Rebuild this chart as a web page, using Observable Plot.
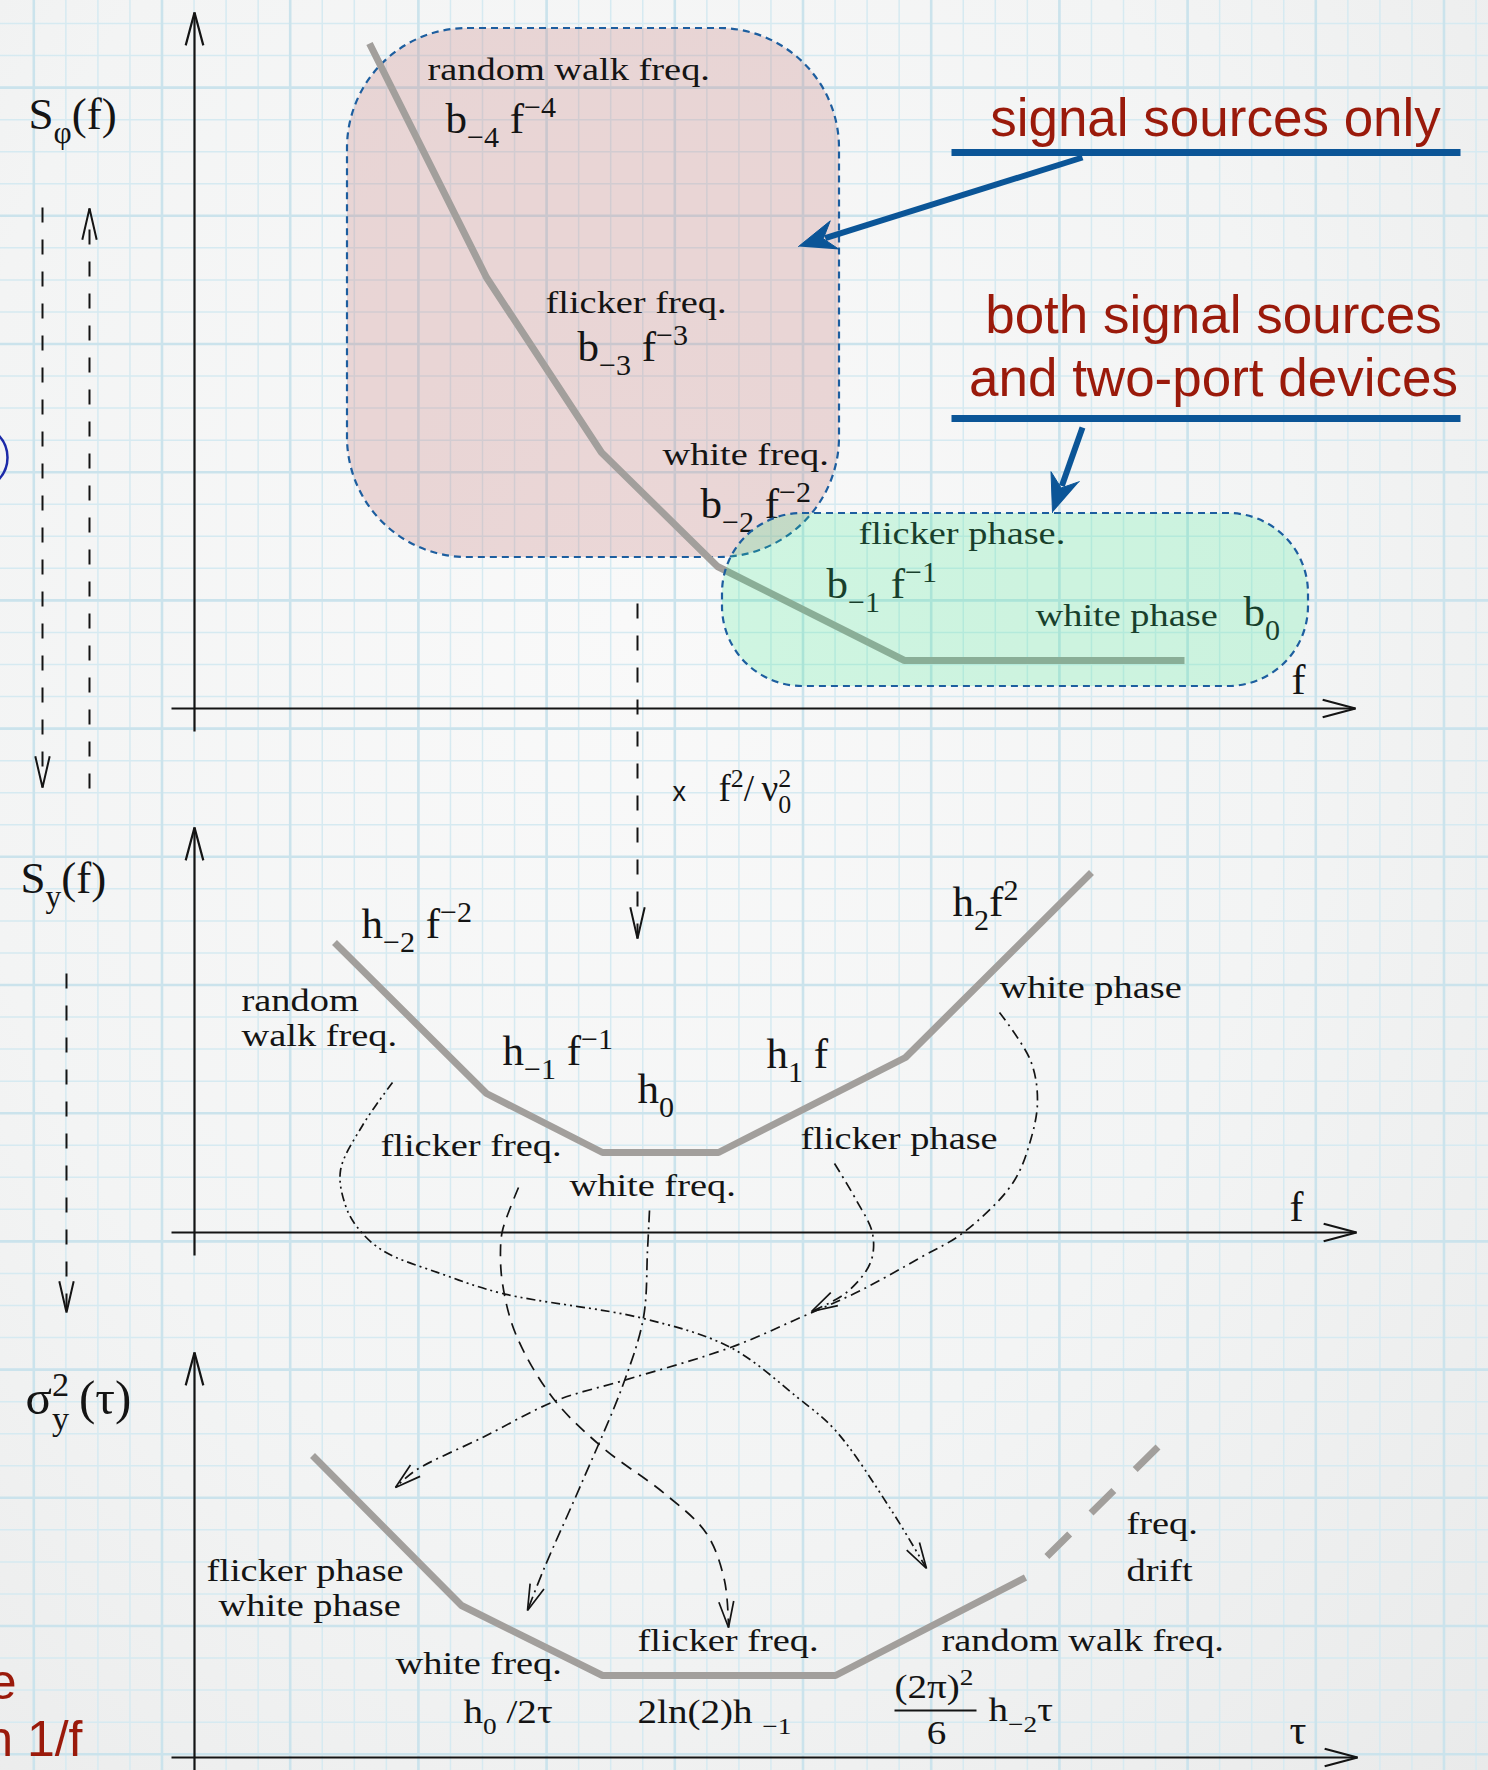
<!DOCTYPE html>
<html>
<head>
<meta charset="utf-8">
<script src="https://cdn.jsdelivr.net/npm/d3@7"></script>
<script src="https://cdn.jsdelivr.net/npm/@observablehq/plot@0.6"></script>
<style>
  html, body { margin: 0; padding: 0; }
  body { background: radial-gradient(ellipse at 42% 35%, #f9f9f9 0%, #f3f4f4 55%, #e9eaea 100%); }
  #chart svg { display: block; }
</style>
</head>
<body>
<div id="chart"></div>
<script>
// Power-law noise: S_phi(f), S_y(f) and the Allan variance, drawn on graph paper.
// Diagram units: x to the right, y downward, one unit per pixel of the page.
const W = 1488, H = 1770;
const SERIF = "Liberation Serif, Times New Roman, serif";
const SANS = "Liberation Sans, Arial, sans-serif";

// ---------- asymptotic slopes (breakpoints of each piecewise curve) ----------
const phaseSpectrum = [[369, 43], [486, 277], [601, 452], [717, 566], [904, 660], [1184, 660]];
const freqSpectrum  = [[334, 942], [486, 1093], [602, 1152], [718, 1152], [905, 1057], [1091, 872]];
const allanVariance = [[312, 1455], [461, 1605], [602, 1675], [835, 1675], [1025, 1577]];
const freqDrift     = [[1025, 1577], [1162, 1442]];

// ---------- regions: signal sources only / sources and two-port devices ----------
const sourceRegion  = [{x1: 347, x2: 839, y1: 28, y2: 557}];
const twoPortRegion = [{x1: 722, x2: 1308, y1: 513, y2: 686}];

// ---------- axes of the three panels (arrow at x2,y2) ----------
const axisLines = [
  {x1: 194, y1: 731, x2: 194, y2: 12},   {x1: 171, y1: 708, x2: 1355, y2: 708},
  {x1: 194, y1: 1255, x2: 194, y2: 827}, {x1: 171, y1: 1232, x2: 1356, y2: 1232},
  {x1: 194, y1: 1780, x2: 194, y2: 1352},{x1: 171, y1: 1757, x2: 1357, y2: 1757}
];

// ---------- dashed conversion arrows ----------
const flowArrows = [
  {x1: 42, y1: 207, x2: 42, y2: 787},
  {x1: 89, y1: 788, x2: 89, y2: 208},
  {x1: 66, y1: 973, x2: 66, y2: 1312},
  {x1: 637, y1: 603, x2: 637, y2: 938}
];

// ---------- mapping of each S_y(f) term onto sigma^2_y(tau) ----------
const mapRandomWalk = [[392,1082],[362,1125],[340,1170],[345,1205],[357,1227],[382,1250],[440,1273],[502,1293],[643,1318],[730,1347],[797,1397],[835,1430],[891,1510],[926,1568]];
const mapFlickerFreq = [[518,1187],[502,1230],[500,1250],[502,1283],[515,1333],[552,1397],[602,1447],[664,1493],[706,1533],[724,1580],[728,1627]];
const mapWhiteFreq = [[649,1210],[647,1250],[643,1317],[623,1383],[581,1483],[544,1567],[527,1610]];
const mapFlickerPhase = [[834,1163],[856,1200],[872,1233],[870,1262],[846,1292],[811,1311]];
const mapWhitePhase = [[999,1012],[1030,1060],[1037,1100],[1030,1140],[1012,1183],[963,1232],[920,1257],[860,1290],[800,1317],[730,1347],[623,1380],[556,1400],[482,1437],[415,1470],[395,1487]];
const mappings = [
  {pts: mapRandomWalk,   dash: "9,4,2,4,2,4"},
  {pts: mapFlickerFreq,  dash: "12,8"},
  {pts: mapWhiteFreq,    dash: "12,5,2,5"},
  {pts: mapFlickerPhase, dash: "10,5,2,5"},
  {pts: mapWhitePhase,   dash: "10,5,2,5"}
];

// ---------- blue call-outs ----------
const calloutRules = [{x1: 951, x2: 1460, y: 152}, {x1: 951, x2: 1460, y: 418}];
const callouts = [{x1: 1082, y1: 157, x2: 798, y2: 246}, {x1: 1082, y1: 427, x2: 1052, y2: 512}];
const calloutText = [
  {t: "signal sources only", x: 1215, y: 135},
  {t: "both signal sources", x: 1213, y: 332},
  {t: "and two-port devices", x: 1213, y: 395}
];
const marginText = [{t: "e", x: 16, y: 1698}, {t: "n 1/f", x: 82, y: 1755}];

// ---------- labels ----------
const quantityLabels = [
  {t: "S_{φ}(f)", x: 28, y: 128},
  {t: "S_{y}(f)", x: 20, y: 892}
];
const allanQuantity = [{t: "σ^{2}_{y}\u2009(τ)", x: 25, y: 1413}];
const variableLabels = [{t: "f", x: 1291, y: 693}, {t: "f", x: 1289, y: 1220}, {t: "τ", x: 1289, y: 1743}];
const termLabels = [
  {t: "b_{−4} f^{−4}", x: 445, y: 132},
  {t: "b_{−3} f^{−3}", x: 577, y: 360},
  {t: "b_{−2} f^{−2}", x: 700, y: 517},
  {t: "b_{−1} f^{−1}", x: 826, y: 597},
  {t: "b_{0}", x: 1243, y: 625},
  {t: "h_{−2} f^{−2}", x: 361, y: 937},
  {t: "h_{−1} f^{−1}", x: 502, y: 1064},
  {t: "h_{0}", x: 637, y: 1102},
  {t: "h_{1} f", x: 766, y: 1067},
  {t: "h_{2}f^{2}", x: 952, y: 915}
];
const noiseNames = [
  {t: "random walk freq.", x: 427, y: 79},
  {t: "flicker freq.", x: 545, y: 312},
  {t: "white freq.", x: 662, y: 464},
  {t: "flicker phase.", x: 858, y: 543},
  {t: "white phase", x: 1035, y: 625},
  {t: "random", x: 241, y: 1010},
  {t: "walk freq.", x: 241, y: 1045},
  {t: "flicker freq.", x: 380, y: 1155},
  {t: "white freq.", x: 569, y: 1195},
  {t: "flicker phase", x: 800, y: 1148},
  {t: "white phase", x: 999, y: 997},
  {t: "flicker phase", x: 206, y: 1580},
  {t: "white phase", x: 218, y: 1615},
  {t: "white freq.", x: 395, y: 1673},
  {t: "flicker freq.", x: 637, y: 1650},
  {t: "random walk freq.", x: 941, y: 1650},
  {t: "freq.", x: 1126, y: 1533},
  {t: "drift", x: 1126, y: 1580}
];
const allanTerms = [
  {t: "h_{0} /2τ", x: 463, y: 1722},
  {t: "2ln(2)h _{−1}", x: 637, y: 1722},
  {t: "(2π)^{2}", x: 894, y: 1697},
  {t: "h_{−2}τ", x: 988, y: 1720}
];
const allanDenominator = [{t: "6", x: 936, y: 1743}];
const fractionBar = [{x1: 894, x2: 976, y: 1710}];
const conversionLabel = [{t: "f^{2}/\u2009ν_{0}^{2}", x: 718, y: 800}];
const conversionSign = [{t: "x", x: 672, y: 800}];

// ---------- graph paper ----------
const gridStep = 32.05;
const gridX = d3.range(33.3, W, gridStep);
const gridY = d3.range(23, H, gridStep);
const gridXMajor = gridX.filter((d, i) => i % 4 === 0);
const gridYMajor = gridY.filter((d, i) => i % 4 === 2);

// ---------- helpers ----------
const toRows = (pts, id) => pts.map(([x, y]) => ({id, x, y}));

// open arrow head (two wings meeting at the tip)
function chevron(tip, from, len, halfDeg, id) {
  const a = Math.atan2(from[1] - tip[1], from[0] - tip[0]), h = halfDeg * Math.PI / 180;
  return [
    {id, x: tip[0] + len * Math.cos(a + h), y: tip[1] + len * Math.sin(a + h)},
    {id, x: tip[0], y: tip[1]},
    {id, x: tip[0] + len * Math.cos(a - h), y: tip[1] + len * Math.sin(a - h)}
  ];
}
// filled barbed head
function barb(tip, from, len, half, notch, id) {
  const dx = tip[0] - from[0], dy = tip[1] - from[1], L = Math.hypot(dx, dy);
  const ux = dx / L, uy = dy / L, nx = -uy, ny = ux;
  return [
    {id, x: tip[0], y: tip[1]},
    {id, x: tip[0] - len * ux + half * nx, y: tip[1] - len * uy + half * ny},
    {id, x: tip[0] - notch * ux, y: tip[1] - notch * uy},
    {id, x: tip[0] - len * ux - half * nx, y: tip[1] - len * uy - half * ny}
  ];
}

const axisHeads = axisLines.flatMap((d, i) => chevron([d.x2, d.y2], [d.x1, d.y1], 34, 15, "a" + i));
const flowHeads = flowArrows.flatMap((d, i) => chevron([d.x2, d.y2], [d.x1, d.y1], 32, 13, "f" + i));
const mapHeads = mappings.flatMap((m, i) => {
  const n = m.pts.length;
  return chevron(m.pts[n - 1], m.pts[n - 2], 27, 16, "m" + i);
});
const calloutHeads = callouts.flatMap((d, i) => barb([d.x2, d.y2], [d.x1, d.y1], 38, 15, 26, "c" + i));
const calloutShafts = callouts.map(d => {
  const dx = d.x2 - d.x1, dy = d.y2 - d.y1, L = Math.hypot(dx, dy);
  return {x1: d.x1, y1: d.y1, x2: d.x2 - 28 * dx / L, y2: d.y2 - 28 * dy / L};
});

const INK = "#141414";
const CURVE = "#a29f9c";
const BORDER = "#1d5e9f";
const BLUE = "#0b5597";
const RED = "#9a1a0b";

const txt = (data, o) => Plot.text(data, {x: "x", y: "y", text: "t", lineAnchor: "bottom", textAnchor: "start", fill: INK, fontFamily: SERIF, ...o});

const chart = Plot.plot({
  width: W,
  height: H,
  margin: 0,
  x: {domain: [0, W], range: [0, W], axis: null},
  y: {domain: [0, H], range: [0, H], axis: null},
  style: {background: "transparent", overflow: "hidden"},
  marks: [
    // graph paper
    Plot.ruleX(gridX, {stroke: "#d6eaf1", strokeWidth: 1.5}),
    Plot.ruleY(gridY, {stroke: "#d6eaf1", strokeWidth: 1.5}),
    Plot.ruleX(gridXMajor, {stroke: "#cbe3ec", strokeWidth: 2.6}),
    Plot.ruleY(gridYMajor, {stroke: "#cbe3ec", strokeWidth: 2.6}),

    // signal-source region (behind the curve)
    Plot.rect(sourceRegion, {x1: "x1", x2: "x2", y1: "y1", y2: "y2", rx: 120, fill: "rgb(202,136,136)", fillOpacity: 0.3}),
    Plot.rect(sourceRegion, {x1: "x1", x2: "x2", y1: "y1", y2: "y2", rx: 120, fill: "none", stroke: BORDER, strokeWidth: 2.2, strokeDasharray: "7,5"}),

    // axes
    Plot.link(axisLines, {x1: "x1", y1: "y1", x2: "x2", y2: "y2", stroke: INK, strokeWidth: 2.2}),
    Plot.line(axisHeads, {x: "x", y: "y", z: "id", stroke: INK, strokeWidth: 2.2, strokeLinejoin: "miter", strokeLinecap: "butt"}),

    // piecewise power-law curves
    Plot.line(toRows(phaseSpectrum, "phi"), {x: "x", y: "y", stroke: CURVE, strokeWidth: 7, strokeLinejoin: "miter", strokeLinecap: "butt"}),
    Plot.line(toRows(freqSpectrum, "y"), {x: "x", y: "y", stroke: CURVE, strokeWidth: 7, strokeLinejoin: "miter", strokeLinecap: "butt"}),
    Plot.line(toRows(allanVariance, "avar"), {x: "x", y: "y", stroke: CURVE, strokeWidth: 7, strokeLinejoin: "miter", strokeLinecap: "butt"}),
    Plot.line(toRows(freqDrift, "drift"), {x: "x", y: "y", stroke: CURVE, strokeWidth: 7, strokeLinecap: "butt", strokeDasharray: "32,30", strokeDashoffset: 32}),

    // dashed conversion arrows
    Plot.link(flowArrows, {x1: "x1", y1: "y1", x2: "x2", y2: "y2", stroke: INK, strokeWidth: 2, strokeDasharray: "15,17"}),
    Plot.line(flowHeads, {x: "x", y: "y", z: "id", stroke: INK, strokeWidth: 2, strokeLinejoin: "miter", strokeLinecap: "butt"}),

    // term-by-term mapping onto the Allan variance
    ...mappings.map((m, i) => Plot.line(toRows(m.pts, "m" + i), {x: "x", y: "y", curve: "catmull-rom", stroke: INK, strokeWidth: 1.7, strokeDasharray: m.dash, strokeLinecap: "butt"})),
    Plot.line(mapHeads, {x: "x", y: "y", z: "id", stroke: INK, strokeWidth: 1.7, strokeLinejoin: "miter", strokeLinecap: "butt"}),
    Plot.link(fractionBar, {x1: "x1", x2: "x2", y1: "y", y2: "y", stroke: INK, strokeWidth: 1.8}),

    // labels
    txt(quantityLabels, {fontSize: 45}),
    txt(allanQuantity, {fontSize: 49}),
    txt(variableLabels, {fontSize: 42}),
    txt(termLabels, {fontSize: 43}),
    txt(noiseNames, {fontSize: 32}),
    txt(allanTerms, {fontSize: 34}),
    txt(allanDenominator, {fontSize: 34, textAnchor: "middle"}),
    txt(conversionLabel, {fontSize: 37}),
    txt(conversionSign, {fontSize: 27, fontFamily: SANS}),

    // sources + two-port region (tints what lies beneath it)
    Plot.rect(twoPortRegion, {x1: "x1", x2: "x2", y1: "y1", y2: "y2", rx: 80, fill: "rgb(45,235,135)", fillOpacity: 0.2}),
    Plot.rect(twoPortRegion, {x1: "x1", x2: "x2", y1: "y1", y2: "y2", rx: 80, fill: "none", stroke: BORDER, strokeWidth: 2.2, strokeDasharray: "7,5"}),

    // call-outs
    Plot.link(calloutRules, {x1: "x1", x2: "x2", y1: "y", y2: "y", stroke: BLUE, strokeWidth: 7}),
    Plot.link(calloutShafts, {x1: "x1", y1: "y1", x2: "x2", y2: "y2", stroke: BLUE, strokeWidth: 6}),
    Plot.line(calloutHeads, {x: "x", y: "y", z: "id", fill: BLUE, stroke: BLUE, strokeWidth: 1}),
    Plot.text(calloutText, {x: "x", y: "y", text: "t", lineAnchor: "bottom", textAnchor: "middle", fill: RED, fontFamily: SANS, fontSize: 53}),
    Plot.text(marginText, {x: "x", y: "y", text: "t", lineAnchor: "bottom", textAnchor: "end", fill: RED, fontFamily: SANS, fontSize: 50}),
    Plot.dot([{x: -25, y: 457}], {x: "x", y: "y", r: 32, stroke: "#1b2aa8", strokeWidth: 2.5, fill: "none"})
  ]
});

document.getElementById("chart").appendChild(chart);

// Sub- and superscripts: "_{..}" and "^{..}" become shifted, smaller tspans;
// two scripts in a row are stacked above each other.
const SVGNS = "http://www.w3.org/2000/svg";
function typeset(el) {
  const src = el.textContent;
  if (!/[_^]\{/.test(src)) return;
  const size = parseFloat(getComputedStyle(el).fontSize);
  el.textContent = "";
  const re = /([_^])\{([^}]*)\}|([^_^]+)/g;
  let shift = 0, prev = null, m;
  while ((m = re.exec(src))) {
    const ts = document.createElementNS(SVGNS, "tspan");
    if (m[3] !== undefined) {
      ts.textContent = m[3];
      if (shift) ts.setAttribute("dy", -shift);
      shift = 0; prev = null;
      el.appendChild(ts);
    } else {
      const target = (m[1] === "_" ? 0.33 : -0.36) * size;
      ts.textContent = m[2];
      ts.setAttribute("font-size", 0.7 * size);
      ts.setAttribute("dy", target - shift);
      shift = target;
      el.appendChild(ts);
      if (prev) ts.setAttribute("dx", -prev.getComputedTextLength());
      prev = ts;
    }
  }
}
chart.querySelectorAll("text").forEach(typeset);

// the figure's running text is set in a wide cut
const stretch = {"32": 1.2, "34": 1.15};
chart.querySelectorAll("g[font-size]").forEach(g => {
  const s = stretch[g.getAttribute("font-size")];
  if (!s) return;
  g.querySelectorAll("text").forEach(t => {
    t.setAttribute("transform", (t.getAttribute("transform") || "") + ` scale(${s},1)`);
  });
});
</script>
</body>
</html>
